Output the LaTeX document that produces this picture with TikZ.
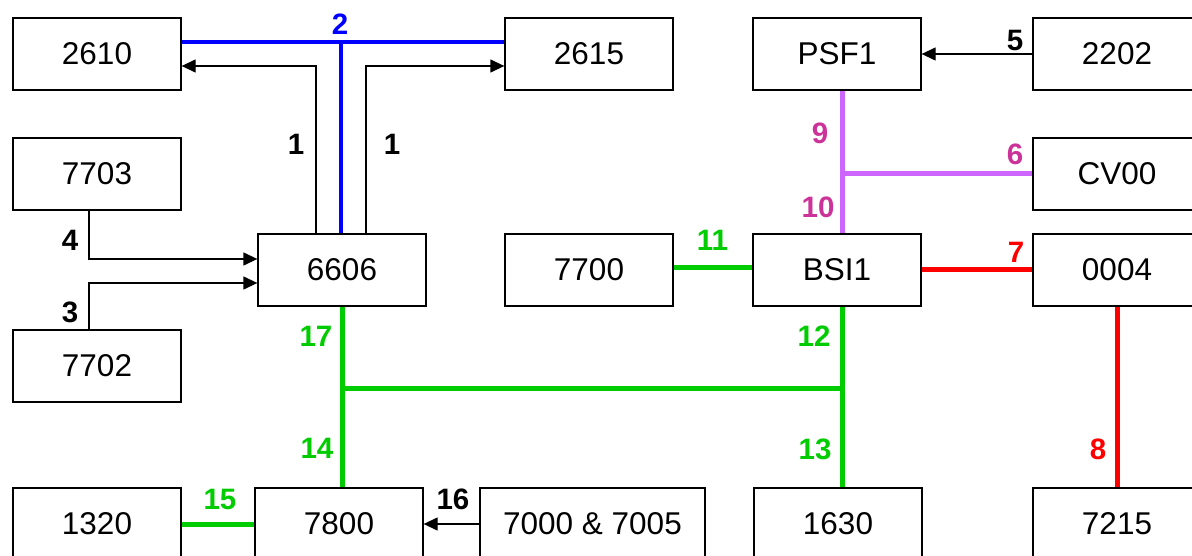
\documentclass[tikz,border=0pt]{standalone}
\usepackage{fontspec}
\setmainfont{Liberation Sans}
\usetikzlibrary{arrows.meta}
\definecolor{cblue}{RGB}{0,0,255}
\definecolor{cgreen}{RGB}{0,204,0}
\definecolor{cred}{RGB}{255,0,0}
\definecolor{cviolet}{RGB}{204,102,255}
\definecolor{cmagenta}{RGB}{204,51,153}
\begin{document}
\begin{tikzpicture}[x=1pt,y=-1pt,
  box/.style={draw, line width=1.3pt, minimum width=168pt, minimum height=72pt, inner sep=0pt, font=\fontsize{31.5}{36}\selectfont},
  lab/.style={inner sep=0pt, font=\fontsize{29.5}{34}\selectfont\bfseries},
  arr/.style={line width=1.3pt, -{Triangle[length=14pt,width=13pt]}},
  bus/.style={line width=5pt}
]
\useasboundingbox (0,0) rectangle (1192,556);
\begin{scope}
\clip (0,0) rectangle (1192,556);
% boxes
\node[box] (b2610) at (97,54) {2610};
\node[box] (b2615) at (589,54) {2615};
\node[box] (bPSF1) at (837,54) {PSF1};
\node[box] (b2202) at (1117,54) {2202};
\node[box] (b7703) at (97,174) {7703};
\node[box] (bCV00) at (1117,174) {CV00};
\node[box] (b6606) at (342,270) {6606};
\node[box] (b7700) at (589,270) {7700};
\node[box] (bBSI1) at (837,270) {BSI1};
\node[box] (b0004) at (1117,270) {0004};
\node[box] (b7702) at (97,366) {7702};
\node[box] (b1320) at (97,524) {1320};
\node[box] (b7800) at (339,524) {7800};
\node[box, minimum width=225pt] (b7000) at (592.5,524) {7000 \& 7005};
\node[box] (b1630) at (838,524) {1630};
\node[box] (b7215) at (1117,524) {7215};

% junction / bend coordinates
\coordinate (j2) at (341,42);
\coordinate (t1a) at (316,66);
\coordinate (t1b) at (366,66);
\coordinate (t4) at (89,259);
\coordinate (t3) at (89,283);
\coordinate (j9) at (842,174);
\coordinate (y11) at (0,268);
\coordinate (jg1) at (342,388);
\coordinate (jg2) at (842,388);

% blue bus 2
\draw[bus, line width=4.5pt, cblue] (b2610.east |- j2) -- (b2615.west |- j2);
\draw[bus, line width=4.5pt, cblue] (j2) -- (b6606.north -| j2);

% arrows 1
\draw[arr] (b6606.north -| t1a) -- (t1a) -- (b2610.east |- t1a);
\draw[arr] (b6606.north -| t1b) -- (t1b) -- (b2615.west |- t1b);

% arrows 4 and 3
\draw[arr] (b7703.south -| t4) -- (t4) -- (b6606.west |- t4);
\draw[arr] (b7702.north -| t3) -- (t3) -- (b6606.west |- t3);

% arrow 5
\draw[arr] (b2202.west) -- (bPSF1.east);

% violet 9, 10, 6
\draw[bus, cviolet] (bPSF1.south -| j9) -- (bBSI1.north -| j9);
\draw[bus, cviolet] (j9) -- (bCV00.west |- j9);

% green 11
\draw[bus, cgreen] (b7700.east |- y11) -- (bBSI1.west |- y11);

% red 7, 8
\draw[bus, cred] (bBSI1.east) -- (b0004.west);
\draw[bus, cred] (b0004.south) -- (b7215.north);

% green 17, 14, 12, 13
\draw[bus, cgreen] (b6606.south -| jg1) -- (b7800.north -| jg1);
\draw[bus, cgreen] (bBSI1.south -| jg2) -- (b1630.north -| jg2);
\draw[bus, cgreen] (jg1) -- (jg2);

% green 15
\draw[bus, cgreen] (b1320.east) -- (b7800.west);

% arrow 16
\draw[arr] (b7000.west) -- (b7800.east);

% labels
\node[lab, cblue] (l2) at (340,24) {2};
\node[lab] (l1a) at (296,144) {1};
\node[lab] (l1b) at (392,144) {1};
\node[lab] (l4) at (70,240) {4};
\node[lab] (l3) at (70,312) {3};
\node[lab] (l5) at (1015,40) {5};
\node[lab, cmagenta] (l9) at (820,133) {9};
\node[lab, cmagenta] (l6) at (1015,154) {6};
\node[lab, cmagenta] (l10) at (818,207) {10};
\node[lab, cgreen] (l11) at (712.5,240) {11};
\node[lab, cred] (l7) at (1016,252) {7};
\node[lab, cgreen] (l17) at (316,336) {17};
\node[lab, cgreen] (l12) at (814,336) {12};
\node[lab, cgreen] (l14) at (317,448) {14};
\node[lab, cgreen] (l13) at (815,449) {13};
\node[lab, cred] (l8) at (1098,449) {8};
\node[lab, cgreen] (l15) at (220,499) {15};
\node[lab] (l16) at (453,499) {16};
\end{scope}
\end{tikzpicture}
\end{document}
